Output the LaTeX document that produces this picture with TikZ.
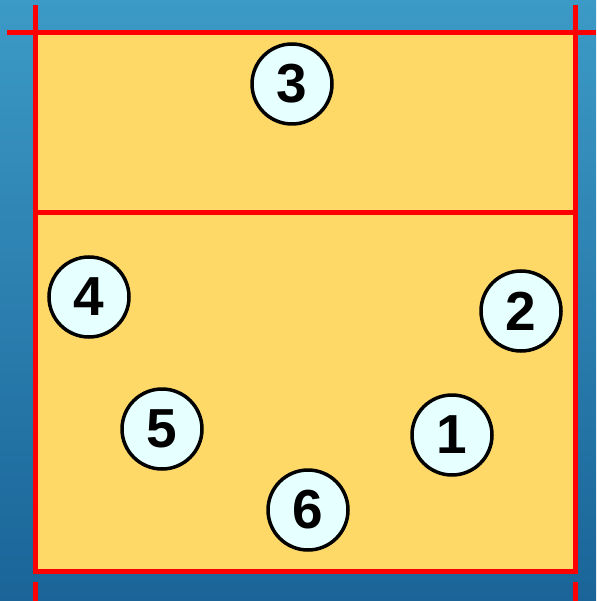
\documentclass[tikz,border=0pt]{standalone}
\usepackage{fontspec}
\setmainfont{Liberation Sans}
\definecolor{bgtop}{RGB}{60,154,198}
\definecolor{bgbot}{RGB}{26,100,152}
\definecolor{court}{RGB}{255,217,104}
\definecolor{disc}{RGB}{230,255,255}
\begin{document}
\begin{tikzpicture}[x=1pt,y=-1pt,
  courtline/.style={draw=red,line width=5pt},
  player/.style={circle,draw=black,line width=3.5pt,fill=disc,minimum size=80pt,inner sep=0pt,
    font=\fontsize{55}{55}\selectfont\bfseries},
  digit/.style={yshift=-1pt}]
\shade[top color=bgtop,bottom color=bgbot] (0,0) rectangle (596,601);
\useasboundingbox (0,0) rectangle (596,601);
\fill[court] (36,32) rectangle (575,572);
% lines
\draw[courtline] (7,32.5) -- (596,32.5);
\draw[courtline] (35.5,5) -- (35.5,574);
\draw[courtline] (575.5,5) -- (575.5,574);
\draw[courtline] (33,571.5) -- (578,571.5);
\draw[courtline] (38,212.5) -- (573,212.5);
\draw[courtline] (35.5,582) -- (35.5,601);
\draw[courtline] (575.5,582) -- (575.5,601);
% players
\node[player] (p3) at (292,84) {3};
\node[player] (p4) at (89,297) {4};
\node[player] (p2) at (521,311) {2};
\node[player] (p5) at (162,429) {5};
\node[player] (p1) at (452,435) {1};
\node[player] (p6) at (308,510) {6};
\end{tikzpicture}
\end{document}
